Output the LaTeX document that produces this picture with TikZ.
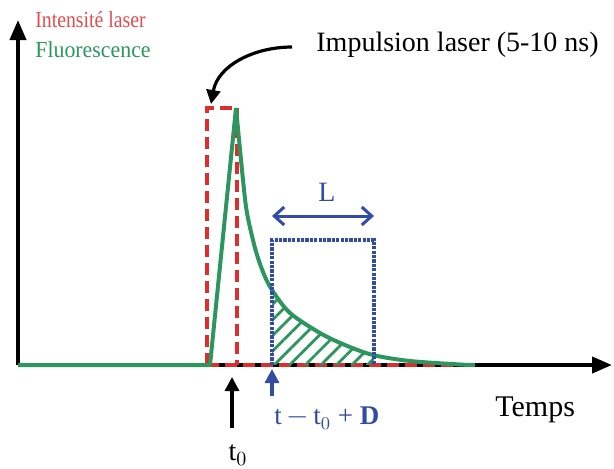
\documentclass[tikz,border=0pt]{standalone}
\usepackage{fontspec}
\setmainfont{Liberation Serif}
\usetikzlibrary{arrows.meta,patterns.meta}

\definecolor{rouge}{RGB}{222,45,45}
\definecolor{vert}{RGB}{45,150,95}
\definecolor{bleu}{RGB}{50,75,165}

\begin{document}
\begin{tikzpicture}[x=0.5pt,y=-0.5pt,
    axe/.style={line width=2pt,-{Triangle[length=10pt,width=8pt]}},
    fleche/.style={line width=1.6pt,-{Triangle[length=7pt,width=7pt]}},
    laser/.style={rouge,line width=2pt,dash pattern=on 6pt off 3pt},
    fluo/.style={vert,line width=2pt,line join=round},
    fenetre/.style={bleu,line width=1.8pt,dash pattern=on 1.6pt off 0.6pt}]

    \useasboundingbox (0,0) rectangle (614,468);

    % パラメータの定義
    \pgfmathsetmacro{\base}{365}
    \pgfmathsetmacro{\ta}{207}
    \pgfmathsetmacro{\tb}{237}
    \pgfmathsetmacro{\ha}{108}
    \pgfmathsetmacro{\ga}{272}
    \pgfmathsetmacro{\gb}{374}

    % 点の定義
    \coordinate (O) at (18,\base);
    \coordinate (Ymax) at (18,20);
    \coordinate (Xmax) at (612,\base);
    \coordinate (Pa) at (\ta,\base);
    \coordinate (Pb) at (\ta,\ha);
    \coordinate (Pc) at (\tb,\ha);
    \coordinate (Pd) at (\tb,\base);
    \coordinate (Pe) at (460,\base);
    \coordinate (Fa) at (210,\base);
    \coordinate (Fp) at (236,\ha);
    \coordinate (Ga) at (\ga,\base);
    \coordinate (Gb) at (\ga,240);
    \coordinate (Gc) at (\gb,240);
    \coordinate (Gd) at (\gb,\base);
    \coordinate (La) at (\ga,216);
    \coordinate (Lb) at (\gb,216);
    \coordinate (Ta) at (232,428);
    \coordinate (Tb) at (232,377);
    \coordinate (Da) at (\ga,396);
    \coordinate (Db) at (\ga,369);
    \coordinate (Ca) at (292,47);
    \coordinate (Cb) at (211,104);

    % 文字の描画
    \node (intens) at (35,20) [anchor=west,inner sep=0pt,text=rouge!85!white,xscale=0.86]
        {\fontsize{11.5}{14}\selectfont Intensité laser};
    \node (fluor) at (35,50) [anchor=west,inner sep=0pt,text=vert,xscale=0.95]
        {\fontsize{11.5}{14}\selectfont Fluorescence};
    \node (impul) at (316,45) [anchor=west,inner sep=0pt]
        {\fontsize{14}{16}\selectfont Impulsion laser (5-10 ns)};
    \node (temps) at (495,410) [anchor=west,inner sep=0pt]
        {\fontsize{15}{17}\selectfont Temps};
    \node (lng) at (327,192) [text=bleu]
        {\fontsize{14}{16}\selectfont L};
    \node (delai) at (274,418) [anchor=west,inner sep=0pt,text=bleu]
        {\fontsize{13.5}{16}\selectfont t\,$-$\,t$_0$ + \textbf{D}};
    \node (tzero) at (238,455) [inner sep=0pt]
        {\fontsize{14}{16}\selectfont t$_0$};

    % 軸の描画
    \draw [axe] (O) -- (Xmax);
    \draw [axe] (O) -- (Ymax);

    % レーザーパルス
    \draw [laser] (Pa) -- (Pb) -- (Pc);
    \draw [laser] (Pc) -- (Pd);
    \draw [laser] (Pa) -- (Pe);

    % 斜線部
    \fill [pattern={Lines[angle=45,distance=5.5pt,line width=1.4pt]},pattern color=vert]
        (Ga) -- plot [smooth] coordinates {(272,290) (290,313) (320,333) (345,345) (\gb,355)}
        -- (Gd) -- cycle;

    % 蛍光
    \draw [fluo] (O) -- (Fa) -- (Fp)
        plot [smooth] coordinates {(236,108) (243,180) (247,213) (255,248) (263,272)
        (272,290) (290,313) (320,333) (345,345) (373,355) (410,361) (460,364.5) (475,365)};

    % ゲート
    \draw [fenetre] (Ga) -- (Gb) -- (Gc) -- (Gd);
    \draw [bleu,line width=1.5pt,{Straight Barb[length=5pt,width=9pt]}-{Straight Barb[length=5pt,width=9pt]}]
        (La) -- (Lb);

    % 矢印
    \draw [fleche] (Ta) -- (Tb);
    \draw [fleche,bleu] (Da) -- (Db);
    \draw [fleche] (Ca) to [out=180,in=80] (Cb);

\end{tikzpicture}
\end{document}
